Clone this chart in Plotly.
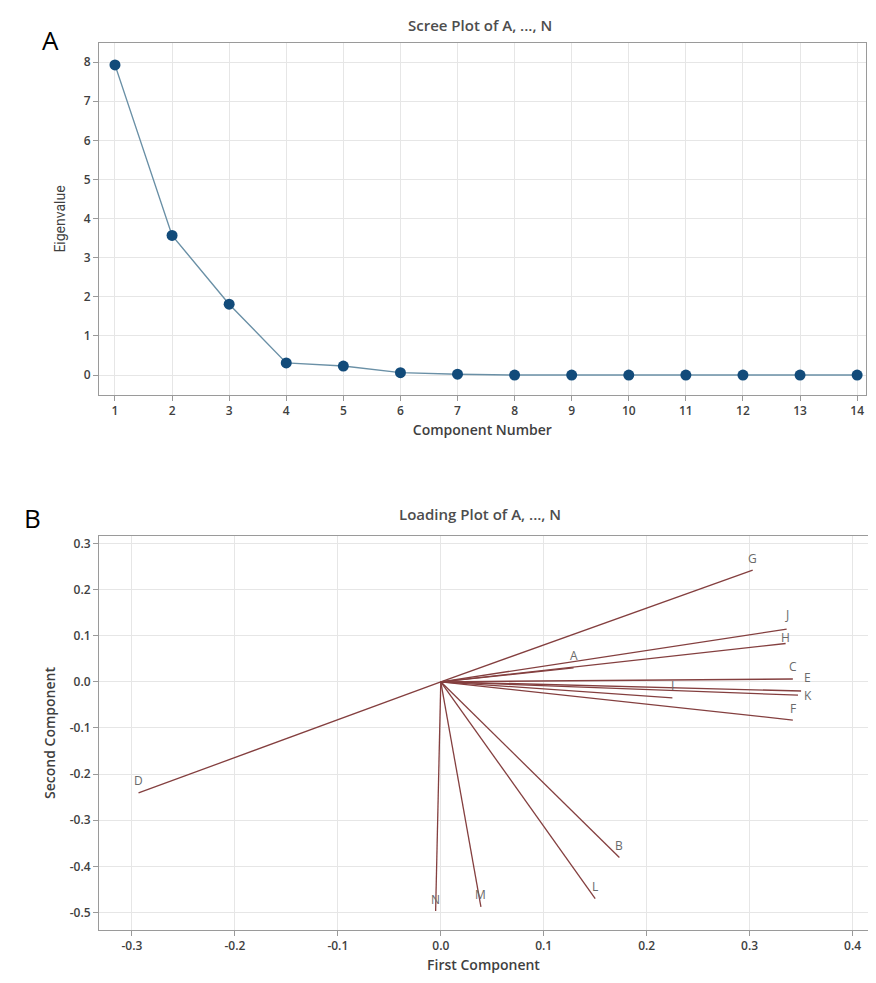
import plotly.graph_objects as go

# Scree plot data
components = list(range(1, 15))
eigenvalues = [7.93, 3.57, 1.81, 0.31, 0.23, 0.06, 0.02, 0.0, 0.0, 0.0, 0.0, 0.0, 0.0, 0.0]

# Loading plot data
variables = ["A", "B", "C", "D", "E", "F", "G", "H", "I", "J", "K", "L", "M", "N"]
first_comp = [0.129, 0.1735, 0.342, -0.2936, 0.350, 0.342, 0.303, 0.335, 0.225, 0.336, 0.347, 0.150, 0.039, -0.005]
second_comp = [0.030, -0.381, 0.006, -0.241, -0.020, -0.083, 0.242, 0.083, -0.035, 0.114, -0.029, -0.470, -0.488, -0.497]

# page has an 8px body margin, so the figure starts at (8, 8) in the window
OFF = 8
W, H = 876 - OFF, 983 - OFF
ML, MR, MT, MB = 99 - OFF, 8, 43 - OFF, 53
FONT = "Open Sans"
TICKC = "#3f3f3f"
GRID = "#e6e6e6"
FRAME = "#9a9a9a"

fig = go.Figure()

fig.add_trace(go.Scatter(
    x=components, y=eigenvalues, mode="lines+markers",
    line=dict(color="#6a90a6", width=1.4),
    marker=dict(color="#124b7a", size=11),
    xaxis="x", yaxis="y", showlegend=False, hoverinfo="x+y"))

line_color = "#843f3f"
for v, fx, sy in zip(variables, first_comp, second_comp):
    fig.add_trace(go.Scatter(
        x=[0, fx], y=[0, sy], mode="lines",
        line=dict(color=line_color, width=1.3),
        xaxis="x2", yaxis="y2", showlegend=False, hoverinfo="skip"))

axis_common = dict(
    showline=True, linecolor=FRAME, linewidth=1, mirror=True,
    showgrid=True, gridcolor=GRID, gridwidth=1, zeroline=False,
    ticks="outside", ticklen=5, tickcolor=FRAME,
    tickfont=dict(family=FONT, size=12, color=TICKC, weight=600),
)
title_font = dict(family=FONT, size=14, color=TICKC, weight=600)

fig.update_layout(
    width=W, height=H,
    paper_bgcolor="white", plot_bgcolor="white",
    margin=dict(l=ML, r=MR, t=MT, b=MB),
    font=dict(family=FONT, color=TICKC),
    xaxis=dict(axis_common, domain=[0, 0.997], anchor="y", range=[0.72, 14.15],
               tickmode="array", tickvals=components,
               title=dict(text="Component Number", standoff=6, font=title_font)),
    yaxis=dict(axis_common, domain=[0.6032, 1], anchor="x", range=[-0.51, 8.49],
               tickmode="array", tickvals=list(range(0, 9)),
               title=dict(text="Eigenvalue", standoff=14,
                          font=dict(family="Liberation Sans Narrow, Roboto", size=14, color=TICKC))),
    xaxis2=dict(axis_common, domain=[0, 1], anchor="y2", range=[-0.332, 0.415],
                tickmode="array", tickvals=[-0.3, -0.2, -0.1, 0.0, 0.1, 0.2, 0.3, 0.4],
                ticktext=["-0.3", "-0.2", "-0.1", "0.0", "0.1", "0.2", "0.3", "0.4"],
                title=dict(text="First Component", standoff=6, font=title_font)),
    yaxis2=dict(axis_common, domain=[0, 0.4442], anchor="x2", range=[-0.538, 0.316],
                tickmode="array", tickvals=[-0.5, -0.4, -0.3, -0.2, -0.1, 0.0, 0.1, 0.2, 0.3],
                ticktext=["-0.5", "-0.4", "-0.3", "-0.2", "-0.1", "0.0", "0.1", "0.2", "0.3"],
                title=dict(text="Second Component", standoff=10, font=title_font)),
)

plot_h = H - MT - MB
plot_w = W - ML - MR


def px_to_paper(xpx, ypx):
    # xpx, ypx are window pixel positions
    return (xpx - OFF - ML) / plot_w, 1 - (ypx - OFF - MT) / plot_h


labels = [
    ("Scree Plot of A, ..., N", 480, 25, dict(family=FONT, size=15, color="#4d4d4d", weight=600)),
    ("Loading Plot of A, ..., N", 480, 514, dict(family=FONT, size=15, color="#4d4d4d", weight=600)),
    ("A", 50, 40, dict(family=FONT, size=26, color="black")),
    ("B", 32, 518, dict(family=FONT, size=26, color="black")),
]
anns = []
for text, xp, yp, f in labels:
    ax, ay = px_to_paper(xp, yp)
    anns.append(dict(text=text, x=ax, y=ay, xref="paper", yref="paper",
                     xanchor="center", yanchor="middle", showarrow=False, font=f))

# variable labels at the loading vector tips (small offsets to keep them readable)
shifts = {"J": (0, 15), "H": (0, 6), "E": (6, 14), "K": (10, 0), "C": (0, 13)}
for v, fx, sy in zip(variables, first_comp, second_comp):
    xs, ys = shifts.get(v, (0, 12))
    anns.append(dict(text=v, x=fx, y=sy, xref="x2", yref="y2",
                     xanchor="center", yanchor="middle", xshift=xs, yshift=ys,
                     showarrow=False, font=dict(family=FONT, size=12, color="#6a6a6a")))
fig.update_layout(annotations=anns)

fig.write_html("out.html")
